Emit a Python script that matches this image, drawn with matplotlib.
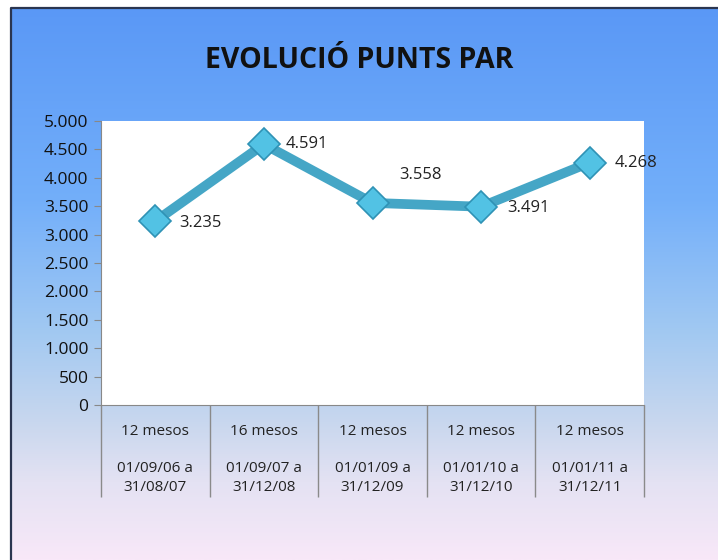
import numpy as np
import matplotlib.pyplot as plt
from matplotlib.colors import LinearSegmentedColormap

plt.rcParams["font.family"] = ["Open Sans", "DejaVu Sans"]

titol = "EVOLUCIÓ PUNTS PAR"
durada = ["12 mesos", "16 mesos", "12 mesos", "12 mesos", "12 mesos"]
periodes = ["01/09/06 a\n31/08/07", "01/09/07 a\n31/12/08", "01/01/09 a\n31/12/09",
            "01/01/10 a\n31/12/10", "01/01/11 a\n31/12/11"]
punts = [3235, 4591, 3558, 3491, 4268]
etiquetes = ["3.235", "4.591", "3.558", "3.491", "4.268"]
# label offsets in points (dx, dy)
offsets = [(17, -1), (16, 0), (19, 20), (19, -1), (18, 0)]

fig = plt.figure(figsize=(7.18, 5.60), dpi=100)

# background panel with vertical gradient
bg = fig.add_axes([0, 0, 1, 1])
bg.set_xlim(0, 718)
bg.set_ylim(560, 0)
bg.axis("off")
cmap = LinearSegmentedColormap.from_list("fons", [
    (0.00, (90/255, 152/255, 246/255)),
    (0.35, (115/255, 175/255, 250/255)),
    (0.58, (160/255, 200/255, 242/255)),
    (0.75, (200/255, 215/255, 238/255)),
    (0.86, (228/255, 226/255, 243/255)),
    (1.00, (248/255, 232/255, 248/255)),
])
grad = np.linspace(0, 1, 256).reshape(-1, 1)
bg.imshow(grad, cmap=cmap, extent=[11, 718, 560, 8], aspect="auto", zorder=0)
bg.plot([11, 11, 718], [560, 8, 8], color="#2a3550", lw=1.6, zorder=1)

bg.text(359, 60, titol, ha="center", va="center", fontsize=20.5, fontweight="bold",
        color="#111111")

ax = fig.add_axes([101/718, 1 - 405/560, 543/718, 284/560])
ax.set_facecolor("white")
x = np.arange(len(punts))
ax.plot(x, punts, color="#45a6c6", lw=7, solid_capstyle="round", zorder=3)
ax.plot(x, punts, ls="none", marker="D", ms=16, color="#52c2e4",
        markeredgecolor="#2f92b5", markeredgewidth=1.2, zorder=4)

for xi, v, lab, (dx, dy) in zip(x, punts, etiquetes, offsets):
    ax.annotate(lab, (xi, v), xytext=(dx, dy), textcoords="offset points",
                ha="left", va="center", fontsize=12, color="#222222",
                annotation_clip=False, zorder=5)

ax.set_xlim(-0.5, len(punts) - 0.5)
ax.set_ylim(0, 5000)
ax.set_yticks(np.arange(0, 5001, 500))
ax.set_yticklabels(["{:,}".format(t).replace(",", ".") for t in range(0, 5001, 500)])
ax.tick_params(axis="y", length=5, color="#888888", labelsize=12.5, labelcolor="#111111", pad=4)
ax.set_xticks([])
for s in ["top", "right"]:
    ax.spines[s].set_visible(False)
ax.spines["left"].set_color("#888888")
ax.spines["bottom"].set_color("#888888")

# category table beneath the axis
tr = ax.get_xaxis_transform()
ax.vlines(np.arange(-0.5, len(punts)), -0.325, 0, transform=tr, colors="#8a8a8a",
          lw=1, clip_on=False)
for xi, d, p in zip(x, durada, periodes):
    ax.text(xi, -0.092, d, transform=tr, ha="center", va="center", fontsize=11,
            color="#222222")
    ax.text(xi, -0.257, p, transform=tr, ha="center", va="center", fontsize=11,
            color="#222222", linespacing=1.35)

fig.savefig("out.png", dpi=100)
